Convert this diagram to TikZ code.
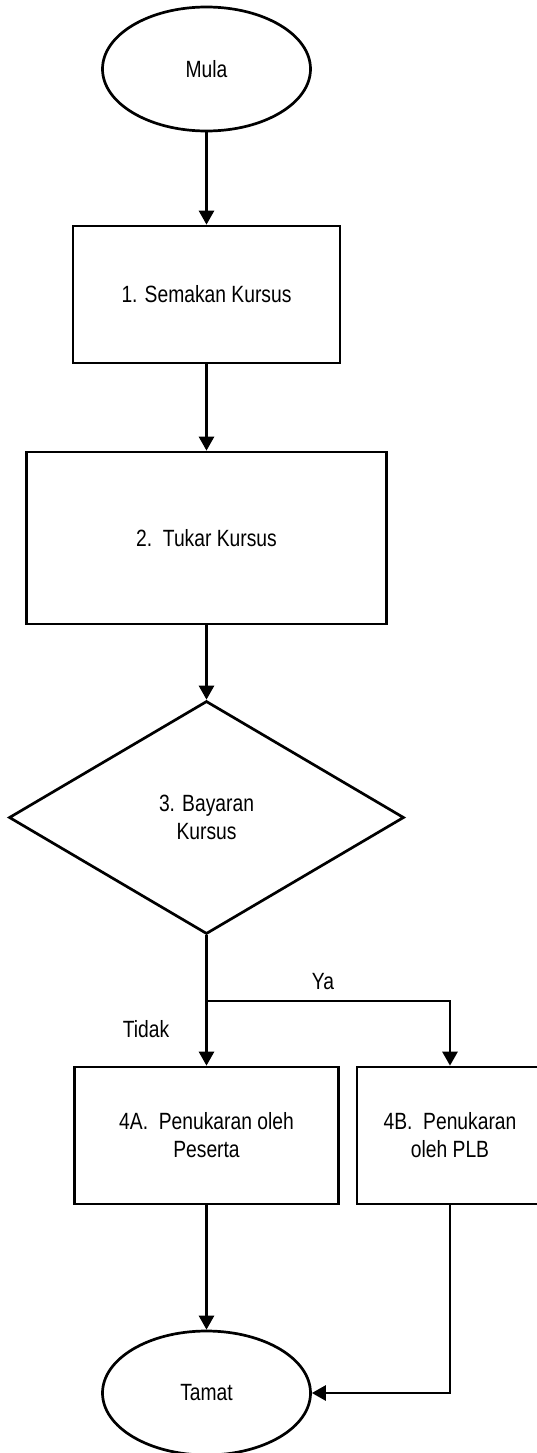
\documentclass[tikz,border=0pt]{standalone}
\usepackage{fontspec}
\setmainfont{Liberation Sans}[FakeStretch=0.82]
\usetikzlibrary{shapes.geometric,arrows.meta}
\tikzset{
  base/.style={draw=black, line width=2.7pt, inner sep=0pt, align=center,
    font=\fontsize{23.5}{28}\selectfont},
  term/.style={base, ellipse, minimum width=208pt, minimum height=124pt},
  procbox/.style={base, rectangle},
  decision/.style={base, diamond, minimum width=395pt, minimum height=233pt},
  lbl/.style={inner sep=0pt, font=\fontsize{23.5}{28}\selectfont},
  conn/.style={draw=black, line width=2.7pt, -{Triangle[length=14pt,width=15pt]}}
}
\begin{document}
\begin{tikzpicture}[x=1pt,y=-1pt]
\clip (0,0) rectangle (537,1453);
\fill[white] (0,0) rectangle (537,1453);
\node[term] (mula) at (206.5,69) {Mula};
\node[procbox, minimum width=267pt, minimum height=137pt] (b1) at (206.5,294.5) {1. Semakan Kursus};
\node[procbox, minimum width=360pt, minimum height=172pt] (b2) at (206.5,538) {2.\ \ Tukar Kursus};
\node[decision] (d3) at (206.5,817.5) {3. Bayaran\\Kursus};
\node[procbox, minimum width=264pt, minimum height=137pt] (b4a) at (206.5,1135.5) {4A.\ \ Penukaran oleh\\Peserta};
\node[procbox, minimum width=186pt, minimum height=137pt] (b4b) at (450,1135.5) {4B.\ \ Penukaran\\oleh PLB};
\node[term] (tamat) at (206.5,1393) {Tamat};
\node[lbl] (ya) at (323,982) {Ya};
\node[lbl] (tidak) at (146,1029) {Tidak};
\coordinate (br) at (206.5,1001);
\draw[conn] (mula.south) -- (b1.north);
\draw[conn] (b1.south) -- (b2.north);
\draw[conn] (b2.south) -- (d3.north);
\draw[conn] (d3.south) -- (b4a.north);
\draw[conn] (br) -| (b4b.north);
\draw[conn] (b4a.south) -- (tamat.north);
\draw[conn] (b4b.south) |- (tamat.east);
\end{tikzpicture}
\end{document}
